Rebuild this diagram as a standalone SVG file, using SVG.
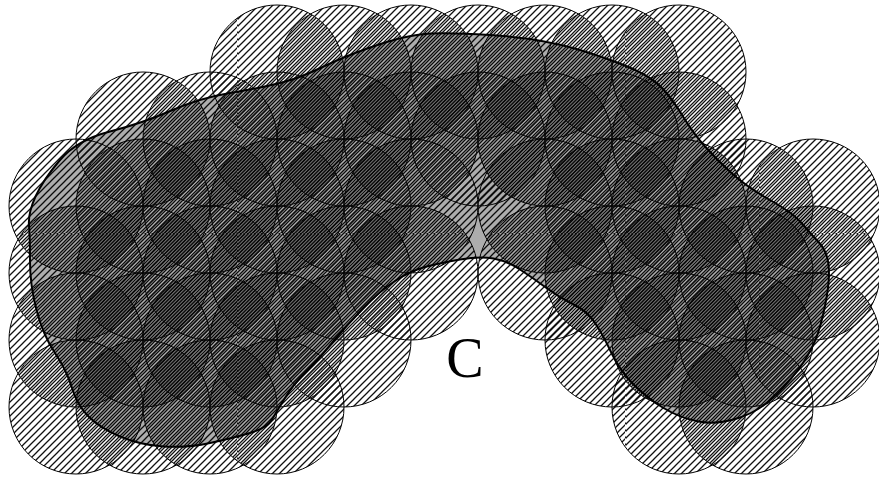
<svg xmlns="http://www.w3.org/2000/svg" width="879" height="478" viewBox="0 0 879 478">
<defs>
<style>
.d{fill:url(#h);stroke:#000;stroke-width:1}
.blob{fill:#000;fill-opacity:0.32;stroke:#000;stroke-width:2;stroke-linejoin:round}
.lbl{font-family:"Liberation Serif","Times New Roman",serif;font-size:56px;fill:#000}
</style>
<pattern id="h" patternUnits="objectBoundingBox" x="0" y="0" width="0.0522388" height="0.0522388">
<path d="M-1,1 L1,-1 M0,7 L7,0 M6,8 L8,6" stroke="#111" stroke-width="1.3"/>
</pattern>
</defs>
<rect width="879" height="478" fill="#fff"/>
<g id="disks">
<circle class="d" cx="277" cy="72" r="67"/><circle class="d" cx="344" cy="72" r="67"/><circle class="d" cx="411" cy="72" r="67"/><circle class="d" cx="478" cy="72" r="67"/><circle class="d" cx="545" cy="72" r="67"/><circle class="d" cx="612" cy="72" r="67"/><circle class="d" cx="679" cy="72" r="67"/>
<circle class="d" cx="143" cy="139" r="67"/><circle class="d" cx="210" cy="139" r="67"/><circle class="d" cx="277" cy="139" r="67"/><circle class="d" cx="344" cy="139" r="67"/><circle class="d" cx="411" cy="139" r="67"/><circle class="d" cx="478" cy="139" r="67"/><circle class="d" cx="545" cy="139" r="67"/><circle class="d" cx="612" cy="139" r="67"/><circle class="d" cx="679" cy="139" r="67"/>
<circle class="d" cx="76" cy="206" r="67"/><circle class="d" cx="143" cy="206" r="67"/><circle class="d" cx="210" cy="206" r="67"/><circle class="d" cx="277" cy="206" r="67"/><circle class="d" cx="344" cy="206" r="67"/><circle class="d" cx="411" cy="206" r="67"/><circle class="d" cx="545" cy="206" r="67"/><circle class="d" cx="612" cy="206" r="67"/><circle class="d" cx="679" cy="206" r="67"/><circle class="d" cx="746" cy="206" r="67"/><circle class="d" cx="813" cy="206" r="67"/>
<circle class="d" cx="76" cy="273" r="67"/><circle class="d" cx="143" cy="273" r="67"/><circle class="d" cx="210" cy="273" r="67"/><circle class="d" cx="277" cy="273" r="67"/><circle class="d" cx="344" cy="273" r="67"/><circle class="d" cx="411" cy="273" r="67"/><circle class="d" cx="545" cy="273" r="67"/><circle class="d" cx="612" cy="273" r="67"/><circle class="d" cx="679" cy="273" r="67"/><circle class="d" cx="746" cy="273" r="67"/><circle class="d" cx="813" cy="273" r="67"/>
<circle class="d" cx="76" cy="340" r="67"/><circle class="d" cx="143" cy="340" r="67"/><circle class="d" cx="210" cy="340" r="67"/><circle class="d" cx="277" cy="340" r="67"/><circle class="d" cx="344" cy="340" r="67"/><circle class="d" cx="612" cy="340" r="67"/><circle class="d" cx="679" cy="340" r="67"/><circle class="d" cx="746" cy="340" r="67"/><circle class="d" cx="813" cy="340" r="67"/>
<circle class="d" cx="76" cy="407" r="67"/><circle class="d" cx="143" cy="407" r="67"/><circle class="d" cx="210" cy="407" r="67"/><circle class="d" cx="277" cy="407" r="67"/><circle class="d" cx="679" cy="407" r="67"/><circle class="d" cx="746" cy="407" r="67"/>
</g>
<path id="C-region" class="blob" d="M60,160 Q77,140 110,131.5 Q143,123 171.5,110.5 Q200,98 230,93 Q260,88 280,83 Q300,78 321.5,67.5 Q343,57 371.5,47 Q400,37 420,34.5 Q440,32 490,35 Q540,38 576.5,49 Q613,60 633,69 Q653,78 663,89 Q673,100 683,116.5 Q693,133 705,146.5 Q717,160 732,173.5 Q747,187 770,200 Q793,213 801.5,223 Q810,233 818.5,242 Q827,251 828.5,264.5 Q830,278 826.5,298 Q823,318 818,333 Q813,348 803,363 Q793,378 776.5,394.5 Q760,411 738.5,418 Q717,425 698.5,421.5 Q680,418 663.5,408 Q647,398 633.5,384.5 Q620,371 611.5,353 Q603,335 595,323 Q587,311 573.5,304.5 Q560,298 546.5,288 Q533,278 520,269.5 Q507,261 493.5,258.5 Q480,256 460,259.5 Q440,263 425,267 Q410,271 395,281 Q380,291 363.5,308 Q347,325 332,343 Q317,361 305,373 Q293,385 285,398 Q277,411 272,419.5 Q267,428 250,433 Q233,438 210,443 Q187,448 163.5,446.5 Q140,445 120,436.5 Q100,428 88.5,416.5 Q77,405 72,388 Q67,371 55,353 Q43,335 36.5,310 Q30,285 30,261.5 Q30,238 29,225.5 Q28,213 35.5,196.5 Q43,180 60,160 Z"/>
<text class="lbl" x="465" y="377" text-anchor="middle">C</text>
</svg>
